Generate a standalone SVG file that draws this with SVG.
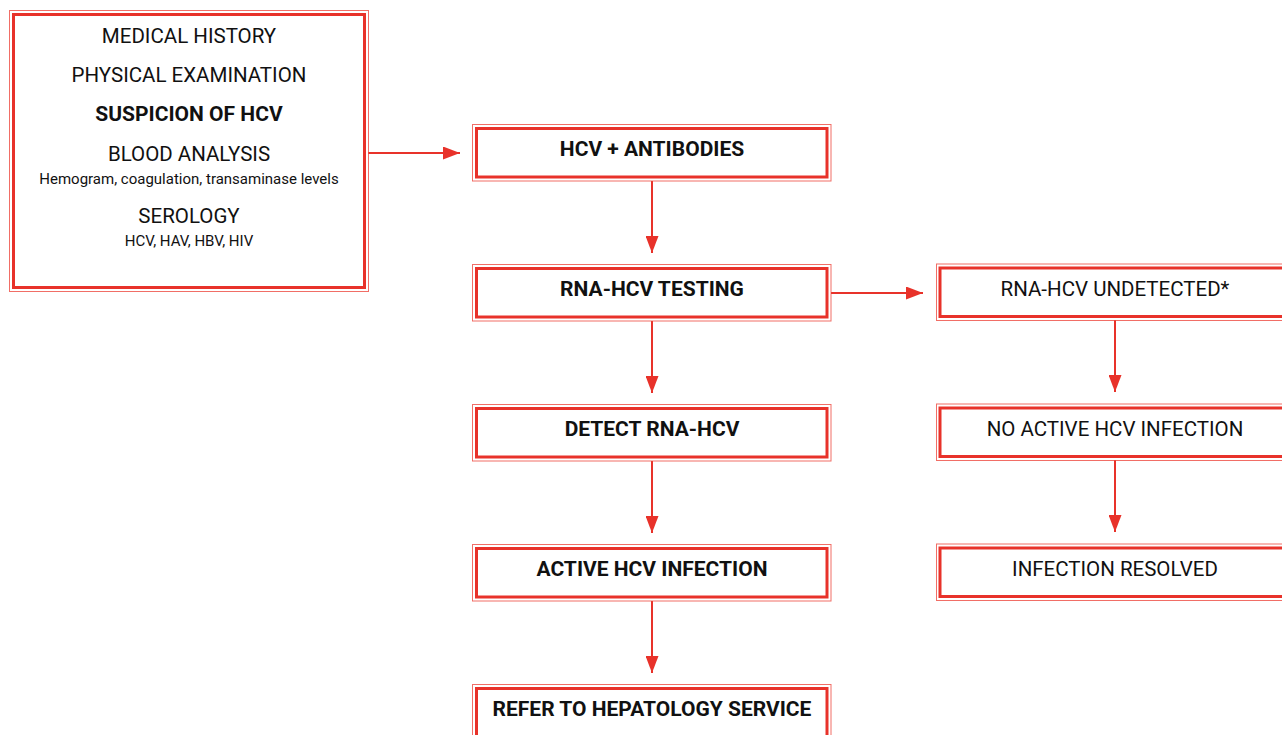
<svg xmlns="http://www.w3.org/2000/svg" width="1282" height="735" viewBox="0 0 1282 735">
<defs>
<style>
.o{fill:none;stroke:#ee4a40;stroke-width:1;opacity:0.8}
.i{fill:#fff;stroke:#e8322a;stroke-width:3}
.t{font-family:Roboto,"Liberation Sans",sans-serif;font-size:20.5px;fill:#111;text-anchor:middle}
.b{font-weight:bold;font-size:21px}
.s{font-size:15px}
.c{stroke:#e8322a;stroke-width:2;fill:none}
.ah{fill:#e8322a}
</style>
<marker id="arr" markerWidth="17" markerHeight="13" refX="17" refY="6.5" orient="auto" markerUnits="userSpaceOnUse">
<path d="M0,0 L17,6.5 L0,13 Z" class="ah"/>
</marker>
</defs>
<rect width="1282" height="735" fill="#fff"/>
<g id="connectors">
<line class="c" x1="368" y1="153" x2="460" y2="153" marker-end="url(#arr)"/>
<line class="c" x1="652" y1="181" x2="652" y2="253" marker-end="url(#arr)"/>
<line class="c" x1="652" y1="321" x2="652" y2="393" marker-end="url(#arr)"/>
<line class="c" x1="652" y1="461" x2="652" y2="533" marker-end="url(#arr)"/>
<line class="c" x1="652" y1="601" x2="652" y2="673" marker-end="url(#arr)"/>
<line class="c" x1="831" y1="293" x2="923" y2="293" marker-end="url(#arr)"/>
<line class="c" x1="1115" y1="320" x2="1115" y2="392" marker-end="url(#arr)"/>
<line class="c" x1="1115" y1="460" x2="1115" y2="532" marker-end="url(#arr)"/>
</g>
<g id="n-start">
<rect class="o" x="9.5" y="10.5" width="359" height="281"/>
<rect class="i" x="13.5" y="14.5" width="351" height="273"/>
<text class="t" x="189" y="43">MEDICAL HISTORY</text>
<text class="t" x="189" y="82">PHYSICAL EXAMINATION</text>
<text class="t b" x="189" y="121">SUSPICION OF HCV</text>
<text class="t" x="189" y="161">BLOOD ANALYSIS</text>
<text class="t s" x="189" y="184">Hemogram, coagulation, transaminase levels</text>
<text class="t" x="189" y="223">SEROLOGY</text>
<text class="t s" x="189" y="246">HCV, HAV, HBV, HIV</text>
</g>
<g id="n-antibodies">
<rect class="o" x="472.5" y="124.5" width="358.5" height="56.5"/>
<rect class="i" x="476.5" y="128.5" width="350.5" height="48.5"/>
<text class="t b" x="652" y="156">HCV + ANTIBODIES</text>
</g>
<g id="n-testing">
<rect class="o" x="472.5" y="264.5" width="358.5" height="56.5"/>
<rect class="i" x="476.5" y="268.5" width="350.5" height="48.5"/>
<text class="t b" x="652" y="296">RNA-HCV TESTING</text>
</g>
<g id="n-detect">
<rect class="o" x="472.5" y="404.5" width="358.5" height="56.5"/>
<rect class="i" x="476.5" y="408.5" width="350.5" height="48.5"/>
<text class="t b" x="652" y="436">DETECT RNA-HCV</text>
</g>
<g id="n-active">
<rect class="o" x="472.5" y="544.5" width="358.5" height="56.5"/>
<rect class="i" x="476.5" y="548.5" width="350.5" height="48.5"/>
<text class="t b" x="652" y="576">ACTIVE HCV INFECTION</text>
</g>
<g id="n-refer">
<rect class="o" x="472.5" y="684.5" width="358.5" height="56.5"/>
<rect class="i" x="476.5" y="688.5" width="350.5" height="48.5"/>
<text class="t b" x="652" y="716">REFER TO HEPATOLOGY SERVICE</text>
</g>
<g id="n-undetected">
<rect class="o" x="936.5" y="264" width="358.5" height="56.5"/>
<rect class="i" x="940" y="268" width="350.5" height="48.5"/>
<text class="t" x="1115" y="296">RNA-HCV UNDETECTED*</text>
</g>
<g id="n-noactive">
<rect class="o" x="936.5" y="404" width="358.5" height="56.5"/>
<rect class="i" x="940" y="408" width="350.5" height="48.5"/>
<text class="t" x="1115" y="436">NO ACTIVE HCV INFECTION</text>
</g>
<g id="n-resolved">
<rect class="o" x="936.5" y="544" width="358.5" height="56.5"/>
<rect class="i" x="940" y="548" width="350.5" height="48.5"/>
<text class="t" x="1115" y="576">INFECTION RESOLVED</text>
</g>
</svg>
